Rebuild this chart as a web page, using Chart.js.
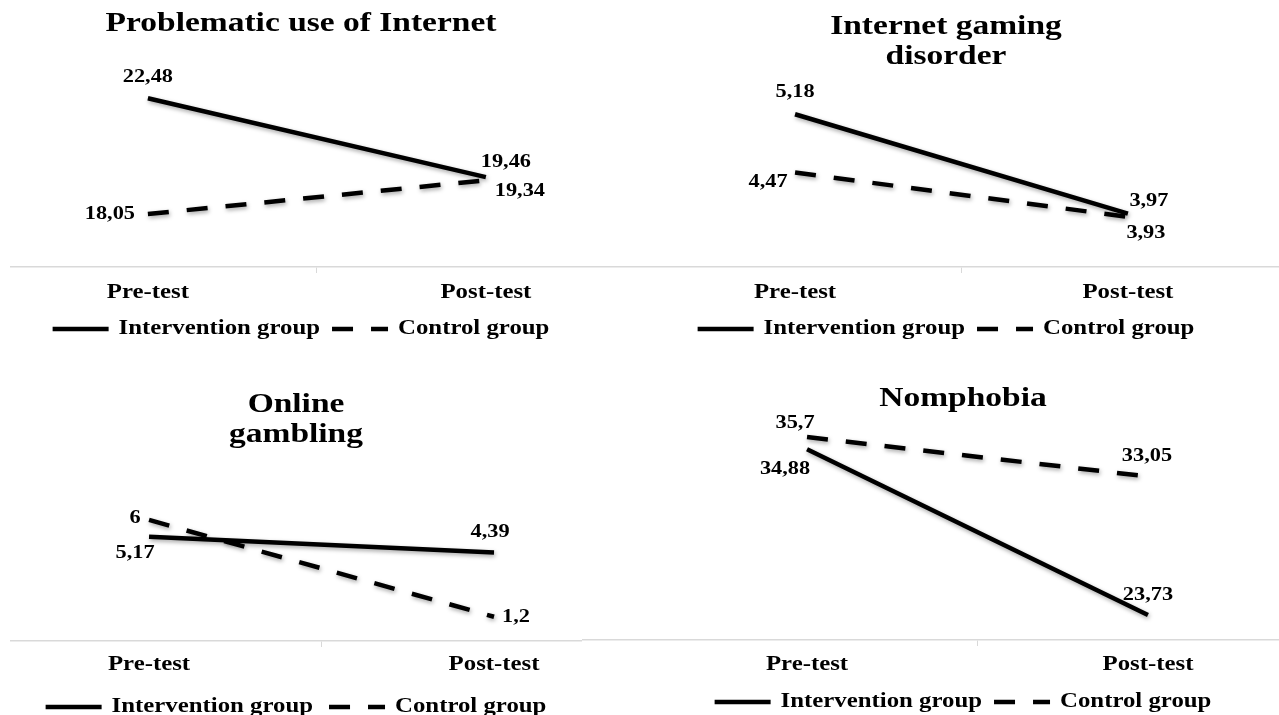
<!DOCTYPE html>
<html>
<head>
  <meta charset="utf-8">
  <title>Pre-test and post-test means by group</title>
  <script src="https://cdn.jsdelivr.net/npm/chart.js"></script>
  <style>
    html, body {
      margin: 0;
      padding: 0;
      background: #fff;
      overflow: hidden;
    }
    .panel {
      position: absolute;
    }
  </style>
</head>
<body>
<div class="panel" style="left:10px;top:0px;width:582px;height:349px"><canvas id="chartInternet"></canvas></div>
<div class="panel" style="left:592px;top:0px;width:708px;height:349px"><canvas id="chartGaming"></canvas></div>
<div class="panel" style="left:10px;top:357px;width:572px;height:370px"><canvas id="chartGambling"></canvas></div>
<div class="panel" style="left:582px;top:357px;width:762px;height:365px"><canvas id="chartNomophobia"></canvas></div>

<script>
  // categories and series
  const phases = ['Pre-test', 'Post-test'];
  const groups = ['Intervention group', 'Control group'];

  const internetIntervention = [22.48, 19.46];
  const internetControl      = [18.05, 19.34];
  const gamingIntervention   = [5.18, 3.97];
  const gamingControl        = [4.47, 3.93];
  const gamblingIntervention = [5.17, 4.39];
  const gamblingControl      = [6, 1.2];
  const nomoIntervention     = [34.88, 23.73];
  const nomoControl          = [35.7, 33.05];

  const serif = '"Liberation Serif", "Times New Roman", serif';

  // the source figure has its type stretched sideways; widen every text draw
  const stretchText = {
    id: 'stretchText',
    beforeInit(chart) {
      const ctx = chart.ctx;
      const k = 1.24;
      const fill = ctx.fillText;
      const measure = ctx.measureText;
      ctx.fillText = function (text, x, y, maxWidth) {
        this.save();
        this.translate(x, y);
        this.scale(k, 1);
        if (maxWidth === undefined) fill.call(this, text, 0, 0);
        else fill.call(this, text, 0, 0, maxWidth / k);
        this.restore();
      };
      ctx.measureText = function (text) {
        const m = measure.call(this, text);
        return {
          width: m.width * k,
          actualBoundingBoxAscent: m.actualBoundingBoxAscent,
          actualBoundingBoxDescent: m.actualBoundingBoxDescent,
          actualBoundingBoxLeft: m.actualBoundingBoxLeft * k,
          actualBoundingBoxRight: m.actualBoundingBoxRight * k
        };
      };
    }
  };

  // soft shadow under the lines
  const lineShadow = {
    id: 'lineShadow',
    beforeDatasetsDraw(chart) {
      const ctx = chart.ctx;
      ctx.save();
      ctx.shadowColor = 'rgba(0,0,0,0.35)';
      ctx.shadowBlur = 4;
      ctx.shadowOffsetX = 1;
      ctx.shadowOffsetY = 2;
    },
    afterDatasetsDraw(chart) {
      chart.ctx.restore();
    }
  };

  // value labels next to each point (decimal comma)
  const valueLabels = {
    id: 'valueLabels',
    afterDraw(chart, args, opts) {
      const ctx = chart.ctx;
      ctx.save();
      ctx.font = 'bold 18px ' + serif;
      ctx.fillStyle = '#000';
      ctx.textAlign = 'center';
      ctx.textBaseline = 'middle';
      chart.data.datasets.forEach((ds, di) => {
        chart.getDatasetMeta(di).data.forEach((pt, i) => {
          const off = opts.offsets[di][i];
          const txt = String(ds.data[i].y).replace('.', ',');
          ctx.fillText(txt, pt.x + off[0], pt.y + off[1]);
        });
      });
      ctx.restore();
    }
  };

  function toPoints(values) {
    return values.map((v, i) => ({ x: i, y: v }));
  }

  function makePanel(id, cfg) {
    new Chart(document.getElementById(id), {
      type: 'line',
      data: {
        datasets: [
          { label: groups[0], data: toPoints(cfg.intervention), borderColor: '#000', backgroundColor: '#000',
            borderWidth: 4.5, pointRadius: 0, fill: false, tension: 0 },
          { label: groups[1], data: toPoints(cfg.control), borderColor: '#000', backgroundColor: '#000',
            borderWidth: 4.5, borderDash: [21, 18], pointRadius: 0, fill: false, tension: 0 }
        ]
      },
      options: {
        responsive: true,
        maintainAspectRatio: false,
        animation: false,
        layout: { padding: 0 },
        plugins: {
          title: {
            display: true,
            text: cfg.title,
            color: '#000',
            font: { family: serif, size: 27, weight: 'bold', lineHeight: 1.1 },
            padding: { top: cfg.titleTop, bottom: 10 }
          },
          legend: {
            position: 'bottom',
            labels: {
              usePointStyle: true,
              pointStyle: 'line',
              pointStyleWidth: 56,
              color: '#000',
              padding: cfg.legendPad,
              font: { family: serif, size: 20, weight: 'bold' },
              // keep the dash pattern of each series in its legend sample
              generateLabels: chart => Chart.defaults.plugins.legend.labels.generateLabels(chart).map(item => {
                item.lineDash = chart.data.datasets[item.datasetIndex].borderDash || [];
                return item;
              })
            }
          },
          tooltip: { enabled: false },
          valueLabels: { offsets: cfg.offsets }
        },
        scales: {
          x: {
            type: 'linear',
            min: cfg.xMin,
            max: cfg.xMax,
            afterBuildTicks: s => { s.ticks = [{ value: 0 }, { value: 0.5 }, { value: 1 }]; },
            afterFit: s => { s.height = 40; },
            ticks: {
              callback: v => phases[v] || '',
              color: '#000',
              padding: cfg.tickPad,
              autoSkip: false,
              maxRotation: 0,
              font: { family: serif, size: 20, weight: 'bold' }
            },
            grid: {
              drawOnChartArea: false,
              tickLength: 6,
              color: c => (c.tick && c.tick.value === 0.5) ? '#d9d9d9' : 'rgba(0,0,0,0)'
            },
            border: { color: '#d9d9d9', width: 1.5 }
          },
          y: { display: false, min: cfg.yMin, max: cfg.yMax }
        }
      },
      plugins: [stretchText, lineShadow, valueLabels]
    });
  }

  makePanel('chartInternet', {
    title: 'Problematic use of Internet',
    intervention: internetIntervention, control: internetControl,
    xMin: -0.408, xMax: 1.314, yMin: 16.02, yMax: 24.38,
    titleTop: 9, tickPad: 8, legendPad: 12,
    offsets: [[[0, -21], [20, -15]], [[-38, 0], [34, 11]]]
  });

  makePanel('chartGaming', {
    title: ['Internet gaming', 'disorder'],
    intervention: gamingIntervention, control: gamingControl,
    xMin: -0.61, xMax: 1.517, yMin: 3.32, yMax: 5.58,
    titleTop: 12, tickPad: 8, legendPad: 12,
    offsets: [[[0, -22], [21, -12]], [[-27, 10], [18, 16]]]
  });

  makePanel('chartGambling', {
    title: ['Online', 'gambling'],
    intervention: gamblingIntervention, control: gamblingControl,
    xMin: -0.403, xMax: 1.255, yMin: 0, yMax: 9,
    titleTop: 33, tickPad: 6, legendPad: 16,
    offsets: [[[-14, 17], [-4, -20]], [[-14, -2], [22, 1]]]
  });

  makePanel('chartNomophobia', {
    title: 'Nomphobia',
    intervention: nomoIntervention, control: nomoControl,
    xMin: -0.66, xMax: 1.575, yMin: 22.05, yMax: 36.6,
    titleTop: 27, tickPad: 7, legendPad: 12,
    offsets: [[[-22, 20], [0, -20]], [[-12, -14], [-1, -20]]]
  });
</script>
</body>
</html>
